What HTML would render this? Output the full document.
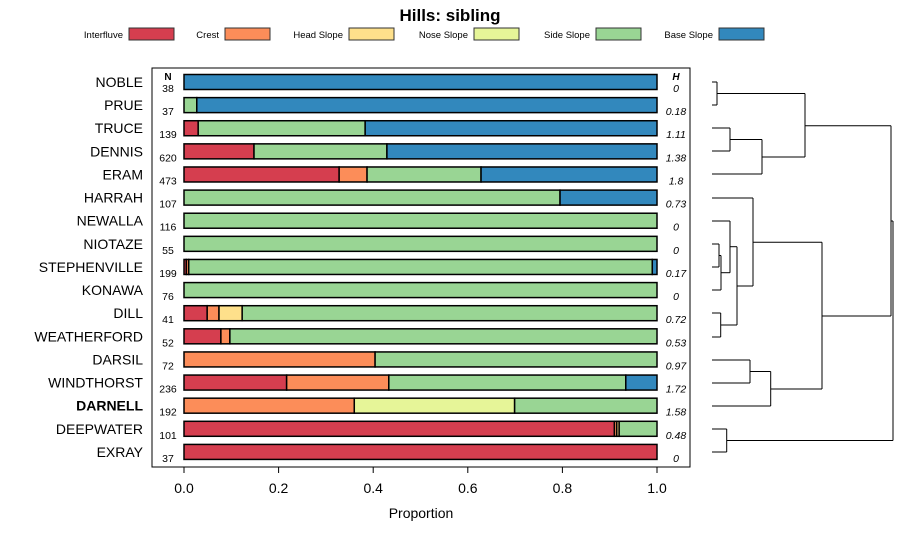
<!DOCTYPE html>
<html><head><meta charset="utf-8">
<style>
body{margin:0;background:#fff;font-family:"Liberation Sans",sans-serif;}
svg text{font-family:"Liberation Sans",sans-serif;}
</style></head>
<body>
<svg id="chart" width="900" height="540" xmlns="http://www.w3.org/2000/svg">
<text x="450" y="21" text-anchor="middle" font-size="17" font-weight="bold">Hills: sibling</text>
<g id="legend"></g>
<rect x="152" y="68" width="538" height="399" fill="none" stroke="#000" stroke-width="1"/>
<g id="bars"></g>
<g id="xaxis"></g>
<text x="421" y="518" text-anchor="middle" font-size="14">Proportion</text>
<text x="168" y="80" text-anchor="middle" font-size="10" font-weight="bold">N</text>
<text x="676" y="80" text-anchor="middle" font-size="10" font-weight="bold" font-style="italic">H</text>
<g id="dendro" stroke="#000" stroke-width="1" fill="none"></g>
</svg>
<script>
const categories=["NOBLE","PRUE","TRUCE","DENNIS","ERAM","HARRAH","NEWALLA","NIOTAZE","STEPHENVILLE","KONAWA","DILL","WEATHERFORD","DARSIL","WINDTHORST","DARNELL","DEEPWATER","EXRAY"];
const seriesNames=["Interfluve","Crest","Head Slope","Nose Slope","Side Slope","Base Slope"];
const colors=["#D53E4F","#FC8D59","#FEE08B","#E6F598","#99D594","#3288BD"];
const interfluve=[0,0,0.03,0.148,0.328,0,0,0,0.005,0,0.049,0.078,0,0.217,0,0.91,1];
const crest=[0,0,0,0,0.059,0,0,0,0.005,0,0.025,0.019,0.404,0.216,0.36,0.005,0];
const headSlope=[0,0,0,0,0,0,0,0,0,0,0.049,0,0,0,0,0.005,0];
const noseSlope=[0,0,0,0,0,0,0,0,0,0,0,0,0,0,0.339,0,0];
const sideSlope=[0,0.027,0.353,0.281,0.241,0.795,1,1,0.98,1,0.877,0.903,0.596,0.501,0.301,0.08,0];
const baseSlope=[1,0.973,0.617,0.571,0.372,0.205,0,0,0.01,0,0,0,0,0.066,0,0,0];
const nValues=[38,37,139,620,473,107,116,55,199,76,41,52,72,236,192,101,37];
const hValues=["0","0.18","1.11","1.38","1.8","0.73","0","0","0.17","0","0.72","0.53","0.97","1.72","1.58","0.48","0"];
const xTicks=[0,0.2,0.4,0.6,0.8,1.0];
const xTickLabels=["0.0","0.2","0.4","0.6","0.8","1.0"];
const series=[interfluve,crest,headSlope,noseSlope,sideSlope,baseSlope];
const NS="http://www.w3.org/2000/svg";
const xs=v=>184+v*473;
const ys=i=>82+i*23.12;
function mk(tag,attrs,parent){const e=document.createElementNS(NS,tag);for(const k in attrs)e.setAttribute(k,attrs[k]);parent.appendChild(e);return e;}
const bars=document.getElementById('bars');
categories.forEach((c,i)=>{
  const y=ys(i);
  const lab=mk('text',{x:143,y:y+5,'text-anchor':'end','font-size':14,'font-weight':c==="DARNELL"?'bold':'normal'},bars);
  lab.textContent=c;
  
  
  let acc=0;
  series.forEach((s,k)=>{
    const v=s[i]; if(v<=0)return;
    const r=mk('rect',{x:xs(acc),y:y-7.5,width:v*473,height:15,fill:colors[k],stroke:'#000','stroke-width':1.5},bars);
    
    
    acc+=v;
  });
  const n=mk('text',{x:168,y:y+10,'text-anchor':'middle','font-size':10.5},bars);
  n.textContent=nValues[i];
  
  
  const h=mk('text',{x:676,y:y+10,'text-anchor':'middle','font-size':10.5,'font-style':'italic'},bars);
  h.textContent=hValues[i];
  
  
});
const xa=document.getElementById('xaxis');
xTicks.forEach((t,i)=>{
  const l=mk('line',{x1:xs(t),x2:xs(t),y1:467,y2:473,stroke:'#000'},xa);
  
  
  const tx=mk('text',{x:xs(t),y:493,'text-anchor':'middle','font-size':14},xa);
  tx.textContent=xTickLabels[i];
  
  
});
const lg=document.getElementById('legend');
const legTextEnd=[123,219,343,468,590,713];
seriesNames.forEach((s,k)=>{
  const t=mk('text',{x:legTextEnd[k],y:38,'text-anchor':'end','font-size':9.5},lg);
  t.textContent=s;
  
  
  const r=mk('rect',{x:legTextEnd[k]+6,y:28,width:45,height:12,fill:colors[k],stroke:'#333','stroke-width':1},lg);
  
  
});
const dg=document.getElementById('dendro');
const segs=[
 [712,82,717,82],[712,105,717,105],[717,82,717,105],[717,93.5,805,93.5],
 [712,128,730,128],[712,151,730,151],[730,128,730,151],[730,139.5,762,139.5],[712,174,762,174],[762,139.5,762,174],[762,157,805,157],[805,93.5,805,157],[805,125.7,891,125.7],
 [712,198,753,198],[712,221,730,221],[712,244,719,244],[712,267,719,267],[719,244,719,267],[719,255.5,721,255.5],[712,290,721,290],[721,255.5,721,290],[721,272.7,730,272.7],[730,221,730,272.7],[730,246.7,737,246.7],
 [712,313,720.7,313],[712,337,720.7,337],[720.7,313,720.7,337],[720.7,325,737,325],[737,246.7,737,325],[737,286,753,286],[753,198,753,286],[753,242.3,822,242.3],
 [712,360,750,360],[712,383,750,383],[750,360,750,383],[750,371.5,770.7,371.5],[712,406,770.7,406],[770.7,371.5,770.7,406],[770.7,389,822,389],[822,242.3,822,389],[822,316,891,316],
 [891,125.7,891,316],[891,221,893,221],[712,429,726.7,429],[712,452,726.7,452],[726.7,429,726.7,452],[726.7,440.5,893,440.5],[893,221,893,440.5]
];
segs.forEach(s=>{
  const l=mk('line',{x1:s[0],y1:s[1],x2:s[2],y2:s[3]},dg);
  
  
});
</script>
</body></html>
